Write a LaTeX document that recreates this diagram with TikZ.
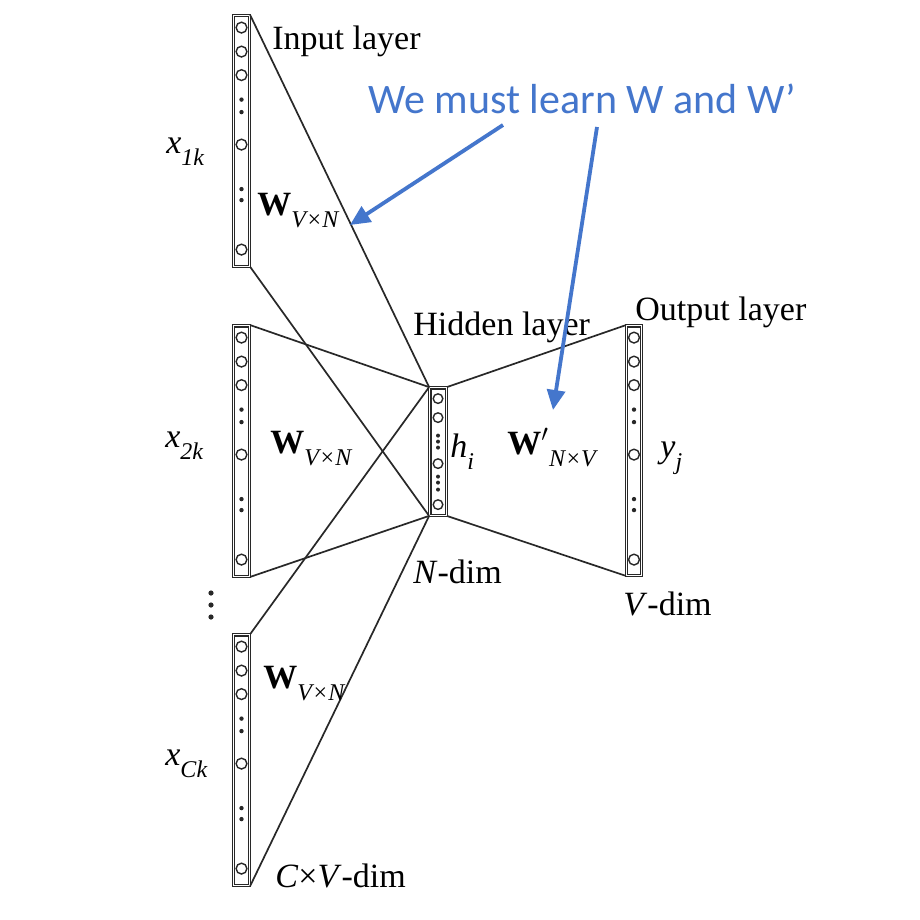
\documentclass[tikz,border=0pt]{standalone}
\usepackage{fontspec}
\setmainfont{Liberation Serif}
\newfontfamily\notefont{Carlito}
\usetikzlibrary{arrows.meta, positioning}

\definecolor{noteblue}{RGB}{68,118,204}
\definecolor{wirecol}{RGB}{40,40,40}
\newcommand{\lsub}[1]{\raisebox{-6pt}{\fontsize{12}{12}\selectfont\itshape #1}}

\begin{document}
\begin{tikzpicture}[x=0.5pt, y=-0.5pt,
    layer/.style={draw=wirecol, double, double distance=0.6pt, line width=0.6pt, inner sep=0pt, minimum width=8.1pt},
    link/.style={draw=wirecol, line width=0.85pt},
    unit/.style={draw=wirecol, line width=0.7pt},
    lbl/.style={anchor=base west, inner sep=0pt, font=\fontsize{17}{20}\selectfont},
    hint/.style={line width=1.9pt, draw=noteblue, -{Triangle[length=10pt, width=9pt]}}]
    \useasboundingbox (0,0) rectangle (920,920);
    \fill[white] (0,0) rectangle (920,920);

    % layers
    \node[layer, minimum height=125.3pt] (in1) at (241.5,141) {};
    \node[layer, minimum height=125.3pt] (in2) at (241.5,451) {};
    \node[layer, minimum height=125.3pt] (in3) at (241.5,760) {};
    \node[layer, minimum height=63.8pt, minimum width=8.3pt] (hid) at (438,451.5) {};
    \node[layer, minimum height=124.8pt, minimum width=7.5pt] (out) at (634,450.5) {};

    % units
    \foreach \b in {in1,in2,in3,out} {
        \foreach \y in {12.5,36.5,60,129.5,234.5}
            \draw[unit] (\b.north) ++(0,\y) circle (2.7pt);
        \foreach \y in {84.5,97,174,185}
            \fill[wirecol] (\b.north) ++(0,\y) circle (1.1pt);
    }
    \foreach \y in {11.5,30.5,76.5,117.5}
        \draw[unit] (hid.north) ++(0,\y) circle (2.4pt);
    \foreach \y in {48.5,54.5,60.5,89.5,95.5,102.5}
        \fill[wirecol] (hid.north) ++(0,\y) circle (1pt);
    \foreach \y in {593,605,617}
        \fill[wirecol] (211,\y) circle (1.3pt);

    % weights
    \foreach \b in {in1,in2,in3} {
        \draw[link] (\b.north east) -- (hid.north west);
        \draw[link] (\b.south east) -- (hid.south west);
    }
    \draw[link] (hid.north east) -- (out.north west);
    \draw[link] (hid.south east) -- (out.south west);

    % labels
    \node[lbl] (inLbl) at (272,50) {Input layer};
    \node[lbl] (x1) at (166,153) {\textit{x}\lsub{1k}};
    \node[lbl] (w1) at (257,215) {\textbf{W}\lsub{V×N}};
    \node[lbl] (x2) at (165,447) {\textit{x}\lsub{2k}};
    \node[lbl] (w2) at (270,453) {\textbf{W}\lsub{V×N}};
    \node[lbl] (x3) at (165,765) {\textit{x}\lsub{Ck}};
    \node[lbl] (w3) at (263,688) {\textbf{W}\lsub{V×N}};
    \node[lbl] (cvLbl) at (275,887) {\textit{C}×\textit{V}-dim};
    \node[lbl] (hidLbl) at (413,335) {Hidden layer};
    \node[lbl] (hLbl) at (450,457) {\textit{h}\lsub{i}};
    \node[lbl] (wp) at (507,454) {\textbf{W}$'$\lsub{N×V}};
    \node[lbl] (ndim) at (413,583) {\textit{N}-dim};
    \node[lbl] (outLbl) at (635,320) {Output layer};
    \node[lbl] (yLbl) at (660,457) {\textit{y}\lsub{j}};
    \node[lbl] (vdim) at (623,615) {\textit{V}-dim};

    % note
    \node[anchor=base, inner sep=0pt, text=noteblue, font=\notefont\fontsize{21}{24}\selectfont] (noteTxt) at (582,113) {We must learn W and W’};
    \coordinate (fromW) at (503,125);
    \coordinate (toW) at (350,225);
    \coordinate (fromWp) at (597,127);
    \coordinate (toWp) at (553,410);
    \draw[hint] (fromW) -- (toW);
    \draw[hint] (fromWp) -- (toWp);
\end{tikzpicture}
\end{document}
